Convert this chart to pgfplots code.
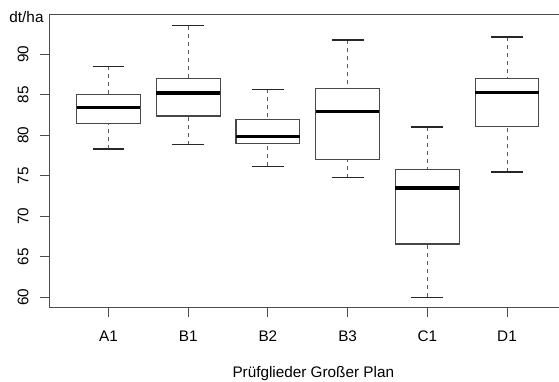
\documentclass[border=0pt]{standalone}
\usepackage{fontspec}
\setmainfont{Liberation Sans}
\usepackage{pgfplots}
\pgfplotsset{compat=1.18}
\newcommand{\lblfont}{\fontsize{15.3}{18}\selectfont}
\pgfplotsset{
  rbox/.style={black!72, line width=1.1pt, solid, mark=none, line join=miter},
  rmed/.style={black, line width=3.2pt, solid, mark=none},
  rwhisk/.style={black!65, line width=1pt, dash pattern=on 4pt off 4pt, mark=none},
  rcap/.style={black!85, line width=1.1pt, solid, mark=none},
}
\begin{document}
\begin{tikzpicture}
\begin{axis}[
  scale only axis,
  width=516.5pt, height=292.5pt,
  xmin=0.26, xmax=6.74,
  ymin=58.74, ymax=94.81,
  axis line style={black!70, line width=1pt},
  xtick={1,2,3,4,5,6},
  xticklabels={A1,B1,B2,B3,C1,D1},
  ytick={60,65,70,75,80,85,90},
  tick align=outside,
  xtick pos=left, ytick pos=left,
  major tick length=9pt,
  every tick/.append style={black!70, line width=1pt},
  tick label style={font=\lblfont, text=black},
  /pgf/number format/assume math mode=true,
  yticklabel style={rotate=90, anchor=base, inner sep=0pt},
  xticklabel style={anchor=base, inner sep=0pt},
  yticklabel shift=12.2pt,
  xticklabel shift=25.2pt,
  clip=false,
]
% ---- A1: whiskers 78.29 / 88.48, quartiles 81.41 / 85.00, median 83.38
\addplot[rwhisk] coordinates {(1,88.48) (1,85.00)};
\addplot[rwhisk] coordinates {(1,78.29) (1,81.41)};
\addplot[rbox] coordinates {(1,81.41) (1.4,81.41) (1.4,85.00) (0.6,85.00) (0.6,81.41) (1,81.41)};
\addplot[rmed] coordinates {(0.6,83.38) (1.4,83.38)};
\addplot[rcap] coordinates {(0.8,78.29) (1.2,78.29)};
\addplot[rcap] coordinates {(0.8,88.48) (1.2,88.48)};
% ---- B1: whiskers 78.82 / 93.49, quartiles 82.36 / 86.96, median 85.19
\addplot[rwhisk] coordinates {(2,93.49) (2,86.96)};
\addplot[rwhisk] coordinates {(2,78.82) (2,82.36)};
\addplot[rbox] coordinates {(2,82.36) (2.4,82.36) (2.4,86.96) (1.6,86.96) (1.6,82.36) (2,82.36)};
\addplot[rmed] coordinates {(1.6,85.19) (2.4,85.19)};
\addplot[rcap] coordinates {(1.8,78.82) (2.2,78.82)};
\addplot[rcap] coordinates {(1.8,93.49) (2.2,93.49)};
% ---- B2: whiskers 76.15 / 85.65, quartiles 78.99 / 81.95, median 79.80
\addplot[rwhisk] coordinates {(3,85.65) (3,81.95)};
\addplot[rwhisk] coordinates {(3,76.15) (3,78.99)};
\addplot[rbox] coordinates {(3,78.99) (3.4,78.99) (3.4,81.95) (2.6,81.95) (2.6,78.99) (3,78.99)};
\addplot[rmed] coordinates {(2.6,79.80) (3.4,79.80)};
\addplot[rcap] coordinates {(2.8,76.15) (3.2,76.15)};
\addplot[rcap] coordinates {(2.8,85.65) (3.2,85.65)};
% ---- B3: whiskers 74.75 / 91.73, quartiles 77.00 / 85.77, median 82.89
\addplot[rwhisk] coordinates {(4,91.73) (4,85.77)};
\addplot[rwhisk] coordinates {(4,74.75) (4,77.00)};
\addplot[rbox] coordinates {(4,77.00) (4.4,77.00) (4.4,85.77) (3.6,85.77) (3.6,77.00) (4,77.00)};
\addplot[rmed] coordinates {(3.6,82.89) (4.4,82.89)};
\addplot[rcap] coordinates {(3.8,74.75) (4.2,74.75)};
\addplot[rcap] coordinates {(3.8,91.73) (4.2,91.73)};
% ---- C1: whiskers 60.00 / 81.00, quartiles 66.57 / 75.74, median 73.48
\addplot[rwhisk] coordinates {(5,81.00) (5,75.74)};
\addplot[rwhisk] coordinates {(5,60.00) (5,66.57)};
\addplot[rbox] coordinates {(5,66.57) (5.4,66.57) (5.4,75.74) (4.6,75.74) (4.6,66.57) (5,66.57)};
\addplot[rmed] coordinates {(4.6,73.48) (5.4,73.48)};
\addplot[rcap] coordinates {(4.8,60.00) (5.2,60.00)};
\addplot[rcap] coordinates {(4.8,81.00) (5.2,81.00)};
% ---- D1: whiskers 75.45 / 92.10, quartiles 81.08 / 86.96, median 85.27
\addplot[rwhisk] coordinates {(6,92.10) (6,86.96)};
\addplot[rwhisk] coordinates {(6,75.45) (6,81.08)};
\addplot[rbox] coordinates {(6,81.08) (6.4,81.08) (6.4,86.96) (5.6,86.96) (5.6,81.08) (6,81.08)};
\addplot[rmed] coordinates {(5.6,85.27) (6.4,85.27)};
\addplot[rcap] coordinates {(5.8,75.45) (6.2,75.45)};
\addplot[rcap] coordinates {(5.8,92.10) (6.2,92.10)};

\node[anchor=base, font=\lblfont, inner sep=0pt, xshift=-23pt, yshift=-8pt]
  at (rel axis cs:0,1) {dt/ha};
\node[anchor=base, font=\lblfont, inner sep=0pt, xshift=263.8pt, yshift=-69.6pt]
  at (rel axis cs:0,0) {Prüfglieder Großer Plan};
\end{axis}
\pgfresetboundingbox
\path (-49.5pt,-73.5pt) rectangle (509.5pt,307.5pt);
\end{tikzpicture}
\end{document}
